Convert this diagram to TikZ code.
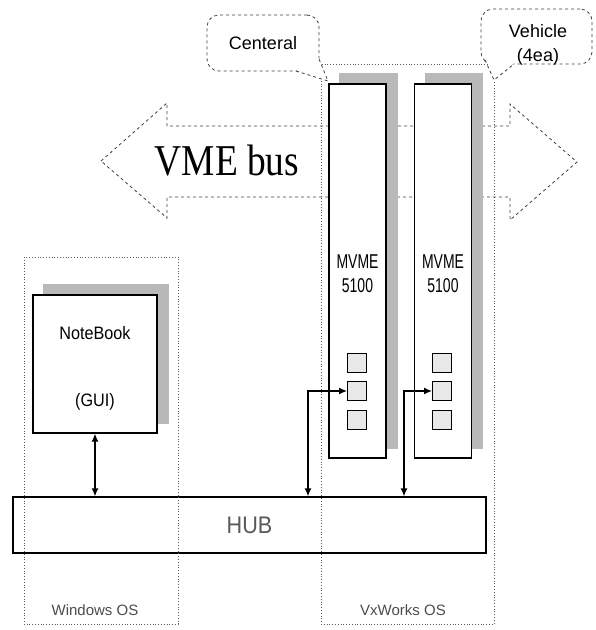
\documentclass[tikz,border=0pt]{standalone}
\usepackage{fontspec}
\setmainfont{Liberation Sans}
\newfontfamily\busfont{Liberation Serif}
\usetikzlibrary{arrows.meta}

\begin{document}
\begin{tikzpicture}[x=1pt, y=-1pt,
    board/.style={draw, line width=1.3pt, fill=white, minimum width=57pt, minimum height=374pt, inner sep=0pt},
    notebox/.style={draw, line width=1.3pt, fill=white, minimum width=124pt, minimum height=138pt, inner sep=0pt},
    hubbox/.style={draw, line width=1.3pt, fill=white, minimum width=473pt, minimum height=56pt, inner sep=0pt},
    shadowfill/.style={fill=gray!55},
    port/.style={draw, line width=1pt, fill=gray!18, minimum size=19pt, inner sep=0pt},
    zone/.style={draw=gray!70!black, dotted, line width=0.8pt},
    bubble/.style={draw=gray!50!black, dashed, line width=0.8pt, fill=white, rounded corners=12pt, inner sep=0pt},
    link/.style={{Latex[length=8pt,width=7pt]}-{Latex[length=8pt,width=7pt]}, line width=1.3pt},
    lbl/.style={font=\fontsize{18}{24}\selectfont, align=center},
    boardlbl/.style={font=\fontsize{20}{24}\selectfont, align=center, xscale=0.7},
    oslbl/.style={font=\fontsize{15}{18}\selectfont, text=gray!60!black}]

    \useasboundingbox (0,0) rectangle (596,630);

    % VME bus arrow
    \draw[dashed, gray!50!black, line width=0.8pt, fill=white]
        (101,161) -- (167,103) -- (167,126) -- (510,126) -- (510,104) -- (577,162)
        -- (510,220) -- (510,197) -- (167,197) -- (167,218) -- cycle;
    \node[font=\busfont\fontsize{44}{48}\selectfont, xscale=0.85] (bus) at (227,161) {VME bus};

    % Draw nodes
    \node[notebox] (note) at (95,364) {};
    \node[board] (boardA) at (357.5,271) {};
    \node[board] (boardB) at (443,271) {};
    \node[hubbox] (hub) at (249.5,525) {};

    % Shadows
    \fill[shadowfill] ([shift={(11,-10)}]note.north west) rectangle ([shift={(11,-10)}]note.south east);
    \fill[shadowfill] ([shift={(11,-10)}]boardA.north west) rectangle ([shift={(11,-10)}]boardA.south east);
    \fill[shadowfill] ([shift={(11,-10)}]boardB.north west) rectangle ([shift={(11,-10)}]boardB.south east);
    \node[notebox] at (note) {};
    \node[board] at (boardA) {};
    \node[board] at (boardB) {};

    % Ports
    \node[port] (portA1) at (357,363) {};
    \node[port] (portA2) at (357,391) {};
    \node[port] (portA3) at (357,420) {};
    \node[port] (portB1) at (442,363) {};
    \node[port] (portB2) at (442,391) {};
    \node[port] (portB3) at (442,420) {};

    % OS zones
    \draw[zone] (24,257) rectangle (178,624);
    \draw[zone] (321,64) rectangle (494,624);

    % Draw connections
    \coordinate (tapA) at (308,391);
    \coordinate (tapB) at (404,391);
    \draw[link] (note.south) -- (note.south |- hub.north);
    \draw[link] (portA2.west) -- (tapA) -- (tapA |- hub.north);
    \draw[link] (portB2.west) -- (tapB) -- (tapB |- hub.north);

    % Callouts
    \node[bubble, lbl, minimum width=112pt, minimum height=56pt] (central) at (263,43) {Centeral};
    \coordinate (centralTip) at (328,81);
    \fill[white] (296,70) -- (centralTip) -- (319,58) -- cycle;
    \draw[dashed, gray!50!black, line width=0.8pt] (296,71) -- (centralTip) -- (319,59);

    \node[bubble, minimum width=111pt, minimum height=55pt] (vehicle) at (536.5,36.5) {};
    \coordinate (vehicleTip) at (494,80);
    \fill[white] (486,59) -- (vehicleTip) -- (514,63) -- cycle;
    \draw[dashed, gray!50!black, line width=0.8pt] (485,60) -- (vehicleTip) -- (514,64);

    % Labels
    \node[lbl] at (538,45) {Vehicle\\(4ea)};
    \node[lbl, xscale=0.9] at (95,333) {NoteBook};
    \node[lbl, xscale=0.9] at (95,402) {(GUI)};
    \node[boardlbl] at (357.5,274) {MVME\\5100};
    \node[boardlbl] at (443,274) {MVME\\5100};
    \node[font=\fontsize{24}{28}\selectfont, text=gray!70!black, xscale=0.9] at (hub) {HUB};
    \node[oslbl] at (95,610) {Windows OS};
    \node[oslbl] at (403,610) {VxWorks OS};
\end{tikzpicture}
\end{document}
